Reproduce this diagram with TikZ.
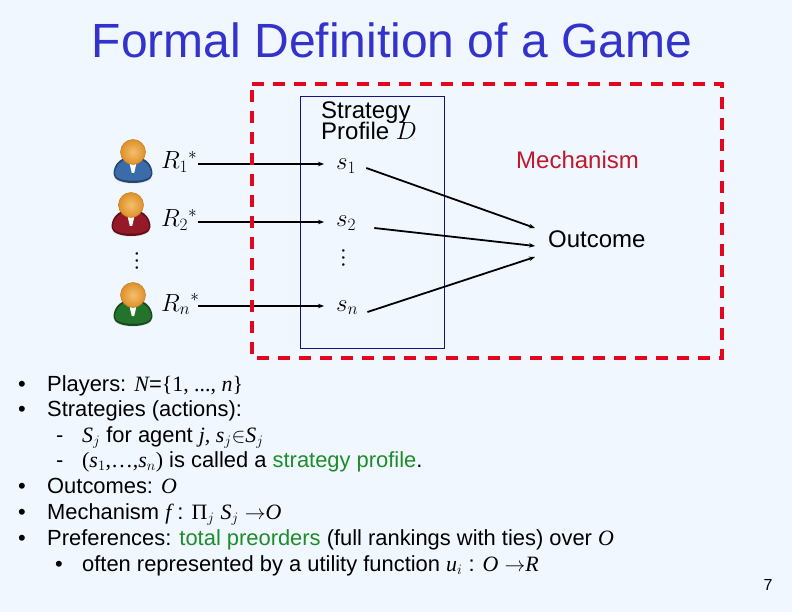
\documentclass[tikz,border=0pt]{standalone}
\usepackage{fontspec}
\usepackage{amsmath}
\setmainfont{Liberation Sans}
\newfontfamily\tmr{Liberation Serif}
\usetikzlibrary{arrows.meta,calc}
\definecolor{bgc}{RGB}{240,247,255}
\definecolor{titleblue}{RGB}{51,51,204}
\definecolor{dashred}{RGB}{226,6,30}
\definecolor{navy}{RGB}{20,20,130}
\definecolor{gr}{RGB}{30,140,40}
\definecolor{mechred}{RGB}{190,25,45}
\definecolor{headin}{RGB}{245,190,110}
\definecolor{headout}{RGB}{222,145,40}
\definecolor{pblue}{RGB}{58,107,170}
\definecolor{pred}{RGB}{150,25,40}
\definecolor{pgreen}{RGB}{35,115,45}
\newcommand{\bodyf}{\fontsize{21.9}{22}\selectfont}
\newcommand{\mi}[1]{{\tmr\itshape #1}}
\tikzset{
  txt/.style={anchor=base west,inner sep=0pt,font=\bodyf},
  lab/.style={anchor=west,inner sep=0pt,text height=12pt,text depth=2pt,font=\fontsize{24}{22}\selectfont},
  arr/.style={line width=1.8pt,-{Stealth[length=6pt,width=4.5pt]}},
  vd/.style={rotate=90,inner sep=0pt,font=\tmr\fontsize{21}{21}\selectfont},
  pics/person/.style={code={
    \fill[black!30,opacity=.45] (-19,11) .. controls (-19,21) and (19,21) .. (19,11) -- cycle;
    \fill[#1!65!black] (-19.5,9) .. controls (-19.5,0) and (-13,-7) .. (-6,-7) -- (6,-7) .. controls (13,-7) and (19.5,0) .. (19.5,9) .. controls (19.5,21) and (-19.5,21) .. (-19.5,9) -- cycle;
    \fill[#1] (-18,9) .. controls (-18,1) and (-12,-5) .. (-6,-5) -- (6,-5) .. controls (12,-5) and (18,1) .. (18,9) .. controls (18,18) and (-18,18) .. (-18,9) -- cycle;
    \fill[white] (-4,-4) -- (4,-4) -- (1.2,8) -- (-1.2,8) -- cycle;
    \shade[inner color=headin,outer color=headout] (0,-13) circle (12.5);
    \draw[headout!85!black,line width=.5pt] (0,-13) circle (12.5);
  }}
}
\begin{document}
\begin{tikzpicture}[x=1pt,y=-1pt]
\useasboundingbox (0,0) rectangle (792,612);
\fill[bgc] (0,0) rectangle (792,612);
% title
\node[anchor=base,inner sep=0pt,text=titleblue,font=\fontsize{48}{50}\selectfont] (title) at (392,58) {Formal Definition of a Game};
% boxes
\draw[navy,line width=1pt] (300.5,96.5) rectangle (444,348);
\node[txt,align=left,font=\fontsize{24}{22}\selectfont,anchor=north west] (prof) at (321,101.5) {Strategy\\[-2pt]Profile $D$};
\node[lab,text=mechred] (mech) at (516,164) {Mechanism};
\node[lab] (outcome) at (548,243) {Outcome};
% people
\pic at (133,165) {person=pblue};
\pic at (131,218) {person=pred};
\pic at (133,308) {person=pgreen};
% player labels
\tikzset{rl/.style={lab,text width=37pt,align=left}}
\node[rl] (R1) at (161,164) {$R_1{}^{*}$};
\node[rl] (R2) at (161,222) {$R_2{}^{*}$};
\node[rl] (Rn) at (161,306) {$R_n{}^{*}$};
\node[lab] (s1) at (336,165) {$s_1$};
\node[lab] (s2) at (336,222) {$s_2$};
\node[lab] (sn) at (336,306) {$s_n$};
\node[vd] (d1) at (137,261) {…};
\node[vd] (d2) at (343.5,258) {…};
% arrows into s
\draw[arr] (R1.east) -- ($(R1.east -| s1.west)+(-12,0)$);
\draw[arr] (R2.east) -- ($(R2.east -| s2.west)+(-12,0)$);
\draw[arr] (Rn.east) -- ($(Rn.east -| sn.west)+(-12,0)$);
% arrows to outcome
\draw[arr] ($(s1.east)+(10,3)$) -- ($(outcome.west)+(-13,-15)$);
\draw[arr] ($(s2.east)+(18,6)$) -- ($(outcome.west)+(-13,3)$);
\draw[arr] ($(sn.east)+(9,6)$) -- ($(outcome.west)+(-13,14)$);
% dashed red frame
\draw[dashred,line width=4pt,dash pattern=on 12pt off 9pt] (252,84) -- (722,84) -- (722,358) -- (252,358) -- cycle;
% bullets
\node[txt] (b1) at (18,391) {•};
\node[txt] (t1) at (47,391) {Players: \mi{N}={\tmr\{1, ..., \mi{n}\}}};
\node[txt] (b2) at (18,416) {•};
\node[txt] (t2) at (47,416) {Strategies (actions):};
\node[txt] (b3) at (56,442) {-};
\node[txt] (t3) at (82,442) {\mi{S}$_j$ for agent \mi{j, s}$_j{\in}$\mi{S}$_j$};
\node[txt] (b4) at (56,467) {-};
\node[txt] (t4) at (82,467) {{\tmr(\mi{s}$_1$,…,\mi{s}$_n$)} is called a \textcolor{gr}{strategy profile}.};
\node[txt] (b5) at (18,493) {•};
\node[txt] (t5) at (47,493) {Outcomes: \mi{O}};
\node[txt] (b6) at (18,519) {•};
\node[txt] (t6) at (47,519) {Mechanism \mi{f} : {\tmr Π}$_j$ \mi{S}$_j$ $\rightarrow$\mi{O}};
\node[txt] (b7) at (18,545) {•};
\node[txt] (t7) at (47,545) {Preferences: \textcolor{gr}{total preorders} (full rankings with ties) over \mi{O}};
\node[txt] (b8) at (55,571) {•};
\node[txt] (t8) at (82,571) {often represented by a utility function \mi{u}$_i$ : \mi{O} $\rightarrow$\mi{R}};
\node[anchor=base,inner sep=0pt,font=\fontsize{16}{16}\selectfont] (pg) at (768,590) {7};
\end{tikzpicture}
\end{document}
